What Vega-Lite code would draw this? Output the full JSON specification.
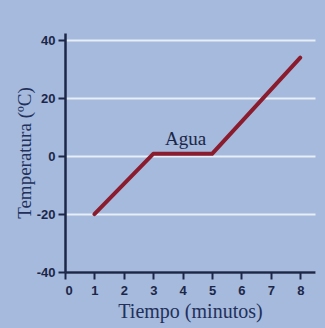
{
  "$schema": "https://vega.github.io/schema/vega-lite/v6.json",
  "autosize": "none",
  "width": 250,
  "height": 239,
  "padding": {"left": 65, "top": 33, "right": 10, "bottom": 56},
  "background": "#a5badd",
  "config": {
    "view": {"stroke": null},
    "axis": {
      "domainColor": "#1c2748",
      "domainWidth": 2.5,
      "tickColor": "#1c2748",
      "tickWidth": 2,
      "tickSize": 7,
      "labelColor": "#1c2748",
      "labelFont": "Liberation Sans Narrow, Liberation Sans",
      "labelFontWeight": "bold",
      "labelFontSize": 13,
      "labelOverlap": false,
      "titleFont": "Liberation Serif",
      "titleFontWeight": "normal",
      "titleColor": "#22305a"
    }
  },
  "datasets": {
    "curve": [
      {"t": 1, "temp": -20},
      {"t": 3, "temp": 0.8},
      {"t": 5, "temp": 0.8},
      {"t": 8, "temp": 34}
    ],
    "label": [{"t": 4.1, "temp": 6.0, "text": "Agua"}]
  },
  "encoding": {
    "x": {
      "field": "t", "type": "quantitative",
      "scale": {"domain": [0, 8.5], "nice": false},
      "axis": {
        "values": [0, 1, 2, 3, 4, 5, 6, 7, 8],
        "title": "Tiempo (minutos)",
        "titleFontSize": 20,
        "grid": false,
        "labelPadding": 5,
        "titlePadding": 4
      }
    },
    "y": {
      "field": "temp", "type": "quantitative",
      "scale": {"domain": [-40, 42.5], "nice": false, "zero": false},
      "axis": {
        "values": [-40, -20, 0, 20, 40],
        "labelExpr": "toString(datum.value)",
        "title": "Temperatura (ºC)",
        "titleFontSize": 19,
        "grid": true,
        "gridColor": "#e8eef8",
        "gridWidth": 2,
        "labelPadding": 3,
        "titlePadding": 2
      }
    }
  },
  "layer": [
    {
      "data": {"name": "curve"},
      "mark": {"type": "line", "color": "#8a1c2e", "strokeWidth": 4, "strokeCap": "round", "strokeJoin": "round"}
    },
    {
      "data": {"name": "label"},
      "mark": {"type": "text", "font": "Liberation Serif", "fontSize": 19, "color": "#1c2748"},
      "encoding": {
        "text": {"field": "text"}
      }
    }
  ]
}
